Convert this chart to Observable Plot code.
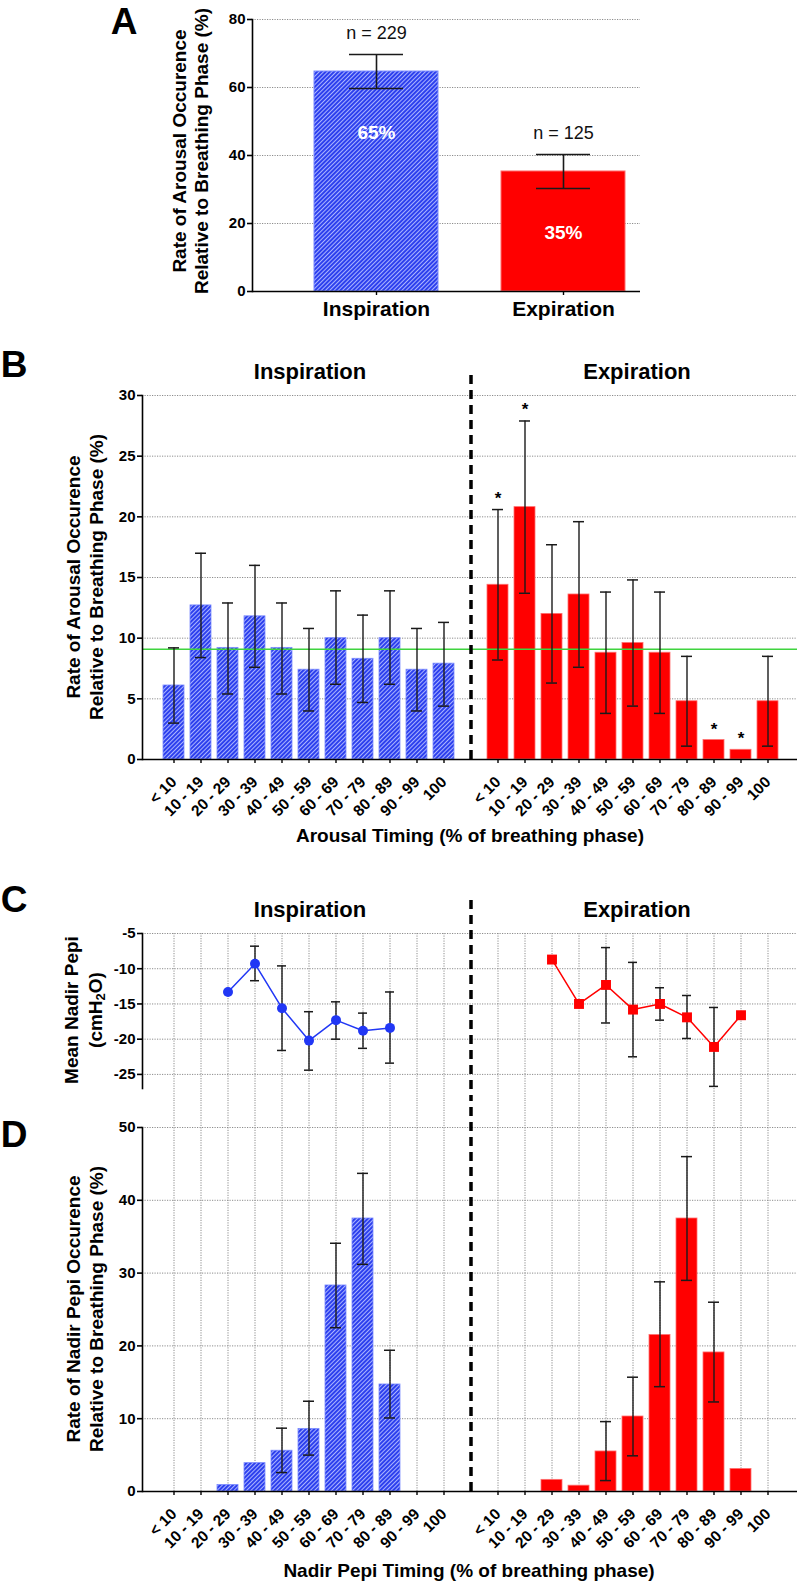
<!DOCTYPE html>
<html>
<head>
<meta charset="utf-8">
<script src="https://cdn.jsdelivr.net/npm/d3@7"></script>
<script src="https://cdn.jsdelivr.net/npm/@observablehq/plot@0.6"></script>
<style>
  html, body { margin: 0; padding: 0; background: #fff; }
  #root { position: relative; width: 800px; height: 1584px; overflow: hidden; background: #fff;
          font-family: "Liberation Sans", Arial, sans-serif; color: #000; }
  .t { position: absolute; white-space: nowrap; font-weight: bold; }
  .yl { position: absolute; white-space: nowrap; font-weight: bold; text-align: center;
        transform: translate(-50%, -50%) rotate(-90deg); }
  .yl sub { font-size: 0.68em; line-height: 0; vertical-align: -0.25em; }
</style>
</head>
<body>
<svg width="0" height="0" style="position:absolute">
  <defs>
    <pattern id="hatch" patternUnits="userSpaceOnUse" width="3" height="3" patternTransform="rotate(45)">
      <rect x="0" y="0" width="3" height="3" fill="#2d40ee"></rect>
      <line x1="0.5" y1="0" x2="0.5" y2="3" stroke="#aab4ff" stroke-width="1"></line>
    </pattern>
  </defs>
</svg>
<div id="root"></div>
<script>
// ---------------- DATA ----------------
const phases = ["Inspiration", "Expiration"];
const phaseRate = [64.7, 35.3];
const phaseRateLo = [59.7, 30.3];
const phaseRateHi = [69.7, 40.3];
const phaseN = ["n = 229", "n = 125"];
const phasePct = ["65%", "35%"];

const timingBins = ["< 10", "10 - 19", "20 - 29", "30 - 39", "40 - 49", "50 - 59",
                    "60 - 69", "70 - 79", "80 - 89", "90 - 99", "100"];

// Panel B: arousal occurrence (%)
const arousalInsp   = [6.1, 12.7, 9.2, 11.8, 9.2, 7.4, 10.0, 8.3, 10.0, 7.4, 7.9];
const arousalInspLo = [3.0, 8.4, 5.4, 7.6, 5.4, 4.0, 6.2, 4.7, 6.2, 4.0, 4.4];
const arousalInspHi = [9.2, 17.0, 12.9, 16.0, 12.9, 10.8, 13.9, 11.9, 13.9, 10.8, 11.3];
const arousalExp    = [14.4, 20.8, 12.0, 13.6, 8.8, 9.6, 8.8, 4.8, 1.6, 0.8, 4.8];
const arousalExpLo  = [8.2, 13.7, 6.3, 7.6, 3.8, 4.4, 3.8, 1.1, null, null, 1.1];
const arousalExpHi  = [20.6, 27.9, 17.7, 19.6, 13.8, 14.8, 13.8, 8.5, null, null, 8.5];
const arousalExpSig = [true, true, false, false, false, false, false, false, true, true, false];
const arousalUniform = [9.09];

// Panel C: mean nadir Pepi (cmH2O)
const nadirInsp   = [null, null, -13.3, -9.3, -15.6, -20.2, -17.3, -18.8, -18.4, null, null];
const nadirInspLo = [null, null, null, -11.7, -21.6, -24.4, -20.0, -21.3, -23.4, null, null];
const nadirInspHi = [null, null, null, -6.8, -9.6, -16.1, -14.7, -16.3, -13.3, null, null];
const nadirExp    = [null, null, -8.7, -15.0, -12.3, -15.8, -15.0, -16.9, -21.1, -16.6, null];
const nadirExpLo  = [null, null, null, null, -17.7, -22.5, -17.3, -19.9, -26.7, null, null];
const nadirExpHi  = [null, null, null, null, -7.0, -9.1, -12.7, -13.8, -15.5, null, null];

// Panel D: nadir Pepi occurrence (%)
const occInsp   = [0, 0, 0.9, 3.9, 5.6, 8.6, 28.3, 37.5, 14.7, 0, 0];
const occInspLo = [null, null, null, null, 2.6, 5.0, 22.5, 31.2, 10.1, null, null];
const occInspHi = [null, null, null, null, 8.7, 12.4, 34.1, 43.7, 19.4, null, null];
const occExp    = [0, 0, 1.6, 0.8, 5.5, 10.3, 21.5, 37.5, 19.1, 3.1, 0];
const occExpLo  = [null, null, null, null, 1.5, 4.9, 14.4, 29.0, 12.3, null, null];
const occExpHi  = [null, null, null, null, 9.6, 15.7, 28.8, 46.0, 26.0, null, null];

// ---------------- HELPERS ----------------
const root = document.getElementById("root");
const FONT = '"Liberation Sans", Arial, sans-serif';
const BLUE_FILL = "url(#hatch)";
const BLUE_EDGE = "#7c8cff";
const RED = "#ff0000";
const RED_EDGE = "#ff6f6f";
const BLUE_PT = "#2137f5";
const ERR = "#1a1a1a";
const GRID = { stroke: "#8c8c8c", strokeOpacity: 1, strokeWidth: 1, strokeDasharray: "1.2,1.3" };
const baseStyle = { fontFamily: FONT, fontWeight: "bold", fontSize: "15px", background: "none", color: "#000", overflow: "hidden" };
const plain = d => String(d);

function addPlot(svg, top) {
  svg.style.position = "absolute";
  svg.style.left = "0px";
  svg.style.top = top + "px";
  root.appendChild(svg);
}
function text(str, cx, baseline, size, weight = "bold") {
  const d = document.createElement("div");
  d.className = "t";
  d.innerHTML = str;
  d.style.fontSize = size + "px";
  d.style.lineHeight = size + "px";
  d.style.fontWeight = weight;
  d.style.top = (baseline - 0.8465 * size) + "px";
  d.style.left = cx + "px";
  d.style.transform = "translateX(-50%)";
  root.appendChild(d);
}
function ylabel(lines, cx, cy, size, lh) {
  const d = document.createElement("div");
  d.className = "yl";
  d.innerHTML = lines.join("<br>");
  d.style.fontSize = size + "px";
  d.style.lineHeight = lh + "px";
  d.style.left = cx + "px";
  d.style.top = cy + "px";
  root.appendChild(d);
}

const keyI = timingBins.map(b => "I|" + b);
const keyE = timingBins.map(b => "E|" + b);
const xDomain = [...keyI, "gap", ...keyE];
const binKeys = [...keyI, ...keyE];
const binLabel = k => (k === "gap" ? "" : k.split("|")[1]);

function rows(prefix, vals, lo, hi, sig) {
  return timingBins.map((b, i) => ({
    key: prefix + "|" + b, phase: prefix, value: vals[i],
    lo: lo[i], hi: hi[i], sig: sig ? sig[i] : false,
    fill: prefix === "I" ? BLUE_FILL : RED,
    edge: prefix === "I" ? BLUE_EDGE : RED_EDGE
  }));
}
const xBand = { type: "band", domain: xDomain, paddingInner: 0.23, paddingOuter: 0, insetLeft: 12, insetRight: 10 };
const yLine = Plot.frame({ anchor: "left", stroke: "#000", strokeWidth: 1.6 });
const rotAxis = (pad) => Plot.axisX({ ticks: binKeys, tickFormat: binLabel, tickRotate: -45, tickSize: 4, tickPadding: pad, label: null, fontSize: 15.5, strokeWidth: 1.4 });

// ---------------- PANEL A ----------------
const rowsA = phases.map((p, i) => ({
  phase: p, value: phaseRate[i], lo: phaseRateLo[i], hi: phaseRateHi[i],
  n: phaseN[i], pct: phasePct[i],
  fill: i === 0 ? BLUE_FILL : RED, edge: i === 0 ? BLUE_EDGE : RED_EDGE
}));
addPlot(Plot.plot({
  width: 640, height: 330,
  marginLeft: 252, marginRight: 0, marginTop: 19, marginBottom: 39,
  style: baseStyle,
  x: { type: "band", domain: phases, paddingInner: 0.337, paddingOuter: 0, insetLeft: 62, insetRight: 15, axis: null },
  y: { domain: [0, 80], axis: null },
  color: { type: "identity" },
  marks: [
    Plot.gridY([20, 40, 60, 80], GRID),
    Plot.barY(rowsA, { x: "phase", y: "value", fill: "fill", stroke: "edge", strokeWidth: 1 }),
    Plot.ruleX(rowsA, { x: "phase", y1: "lo", y2: "hi", stroke: ERR, strokeWidth: 1.6 }),
    Plot.tickY(rowsA, { x: "phase", y: "hi", stroke: ERR, strokeWidth: 1.6, insetLeft: 35, insetRight: 35 }),
    Plot.tickY(rowsA, { x: "phase", y: "lo", stroke: ERR, strokeWidth: 1.6, insetLeft: 35, insetRight: 35 }),
    Plot.text(rowsA, { x: "phase", y: "hi", text: "n", dy: -21, fontSize: 18, fontWeight: "normal", fill: "#111" }),
    Plot.text(rowsA, { x: "phase", y: d => d.value - 18, text: "pct", fontSize: 19, fontWeight: "bold", fill: "white" }),
    Plot.ruleY([0], { stroke: "#000", strokeWidth: 1.6 }),
    yLine,
    Plot.axisY({ ticks: [0, 20, 40, 60, 80], tickFormat: plain, tickSize: 5, tickPadding: 2, label: null, fontSize: 15, strokeWidth: 1.6 }),
    Plot.axisX({ tickSize: 4, tickPadding: 6, label: null, fontSize: 21, strokeWidth: 1.4 })
  ]
}), 0);

// ---------------- PANEL B ----------------
const rowsBI = rows("I", arousalInsp, arousalInspLo, arousalInspHi);
const rowsBE = rows("E", arousalExp, arousalExpLo, arousalExpHi, arousalExpSig);
const rowsB = [...rowsBI, ...rowsBE];
addPlot(Plot.plot({
  width: 800, height: 500,
  marginLeft: 142, marginRight: 3, marginTop: 35, marginBottom: 101,
  style: baseStyle,
  x: { ...xBand, axis: null },
  y: { domain: [0, 30], axis: null },
  color: { type: "identity" },
  marks: [
    Plot.gridY([5, 10, 15, 20, 25, 30], GRID),
    Plot.barY(rowsB, { x: "key", y: "value", fill: "fill", stroke: "edge", strokeWidth: 0.8 }),
    Plot.ruleY(arousalUniform, { stroke: "#3fd43f", strokeWidth: 1.6 }),
    Plot.ruleX(rowsB.filter(d => d.lo != null), { x: "key", y1: "lo", y2: "hi", stroke: ERR, strokeWidth: 1.4 }),
    Plot.tickY(rowsB.filter(d => d.hi != null), { x: "key", y: "hi", stroke: ERR, strokeWidth: 1.5, insetLeft: 5, insetRight: 5 }),
    Plot.tickY(rowsB.filter(d => d.lo != null), { x: "key", y: "lo", stroke: ERR, strokeWidth: 1.5, insetLeft: 5, insetRight: 5 }),
    Plot.text(rowsB.filter(d => d.sig), { x: "key", y: d => (d.hi != null ? d.hi : d.value), text: () => "*", dy: -11, fontSize: 17, fontWeight: "bold", fill: "#000" }),
    Plot.ruleX(["gap"], { x: d => d, y1: 0, y2: 32.06, stroke: "#000", strokeWidth: 3.5, strokeDasharray: "9,6" }),
    Plot.ruleY([0], { stroke: "#000", strokeWidth: 1.6 }),
    yLine,
    Plot.axisY({ ticks: [0, 5, 10, 15, 20, 25, 30], tickFormat: plain, tickSize: 5, tickPadding: 2, label: null, fontSize: 15, strokeWidth: 1.6 }),
    rotAxis(16)
  ]
}), 360);

// ---------------- PANEL C ----------------
const rowsCI = rows("I", nadirInsp, nadirInspLo, nadirInspHi).filter(d => d.value != null);
const rowsCE = rows("E", nadirExp, nadirExpLo, nadirExpHi).filter(d => d.value != null);
const errC = [...rowsCI, ...rowsCE].filter(d => d.lo != null);
addPlot(Plot.plot({
  width: 800, height: 220,
  marginLeft: 142, marginRight: 3, marginTop: 53, marginBottom: 12,
  style: baseStyle,
  x: { ...xBand, axis: null },
  y: { domain: [-27, -5], axis: null },
  marks: [
    Plot.gridY([-5, -10, -15, -20, -25], GRID),
    Plot.ruleX(binKeys, { x: d => d, y1: -5, y2: -28.8, ...GRID }),
    Plot.ruleX(["gap"], { x: d => d, y1: -0.32, y2: -28.8, stroke: "#000", strokeWidth: 3.5, strokeDasharray: "9,6" }),
    Plot.ruleX(errC, { x: "key", y1: "lo", y2: "hi", stroke: ERR, strokeWidth: 1.4 }),
    Plot.tickY(errC, { x: "key", y: "hi", stroke: ERR, strokeWidth: 1.5, insetLeft: 6, insetRight: 6 }),
    Plot.tickY(errC, { x: "key", y: "lo", stroke: ERR, strokeWidth: 1.5, insetLeft: 6, insetRight: 6 }),
    Plot.line(rowsCI, { x: "key", y: "value", stroke: BLUE_PT, strokeWidth: 1.5 }),
    Plot.line(rowsCE, { x: "key", y: "value", stroke: RED, strokeWidth: 1.5 }),
    Plot.dot(rowsCI, { x: "key", y: "value", r: 5, fill: BLUE_PT, stroke: null }),
    Plot.dot(rowsCE, { x: "key", y: "value", r: 5.6, symbol: "square", fill: RED, stroke: null }),
    yLine,
    Plot.axisY({ ticks: [-5, -10, -15, -20, -25], tickFormat: plain, tickSize: 5, tickPadding: 2, label: null, fontSize: 15, strokeWidth: 1.6 })
  ]
}), 880);

// ---------------- PANEL D ----------------
const rowsD = [...rows("I", occInsp, occInspLo, occInspHi), ...rows("E", occExp, occExpLo, occExpHi)];
addPlot(Plot.plot({
  width: 800, height: 484,
  marginLeft: 142, marginRight: 3, marginTop: 27, marginBottom: 93,
  style: baseStyle,
  x: { ...xBand, axis: null },
  y: { domain: [0, 50], axis: null },
  color: { type: "identity" },
  marks: [
    Plot.gridY([10, 20, 30, 40, 50], GRID),
    Plot.ruleX(binKeys, { x: d => d, y1: 0, y2: 53.8, ...GRID }),
    Plot.ruleX(["gap"], { x: d => d, y1: 0, y2: 53.8, stroke: "#000", strokeWidth: 3.5, strokeDasharray: "9,6" }),
    Plot.barY(rowsD.filter(d => d.value > 0), { x: "key", y: "value", fill: "fill", stroke: "edge", strokeWidth: 0.8 }),
    Plot.ruleX(rowsD.filter(d => d.lo != null), { x: "key", y1: "lo", y2: "hi", stroke: ERR, strokeWidth: 1.4 }),
    Plot.tickY(rowsD.filter(d => d.hi != null), { x: "key", y: "hi", stroke: ERR, strokeWidth: 1.5, insetLeft: 5, insetRight: 5 }),
    Plot.tickY(rowsD.filter(d => d.lo != null), { x: "key", y: "lo", stroke: ERR, strokeWidth: 1.5, insetLeft: 5, insetRight: 5 }),
    Plot.ruleY([0], { stroke: "#000", strokeWidth: 1.6 }),
    yLine,
    Plot.axisY({ ticks: [0, 10, 20, 30, 40, 50], tickFormat: plain, tickSize: 5, tickPadding: 2, label: null, fontSize: 15, strokeWidth: 1.6 }),
    rotAxis(16)
  ]
}), 1100);

// ---------------- TEXT: letters, titles, axis labels ----------------
text("A", 124, 34, 37);
text("B", 14, 377, 37);
text("C", 14, 912, 37);
text("D", 14, 1147, 37);

text("Inspiration", 310, 380, 22);
text("Expiration", 637, 380, 22);
text("Inspiration", 310, 918, 22);
text("Expiration", 637, 918, 22);

ylabel(["Rate of Arousal Occurence", "Relative to Breathing Phase (%)"], 191, 151, 19, 22);
ylabel(["Rate of Arousal Occurence", "Relative to Breathing Phase (%)"], 85, 577, 19, 23);
ylabel(["Mean Nadir Pepi", "(cmH<sub>2</sub>O)"], 84, 1010, 19, 24);
ylabel(["Rate of Nadir Pepi Occurence", "Relative to Breathing Phase (%)"], 85, 1309, 19, 23);

text("Arousal Timing (% of breathing phase)", 470, 842, 19);
text("Nadir Pepi Timing (% of breathing phase)", 469, 1577, 19);
</script>
</body>
</html>
